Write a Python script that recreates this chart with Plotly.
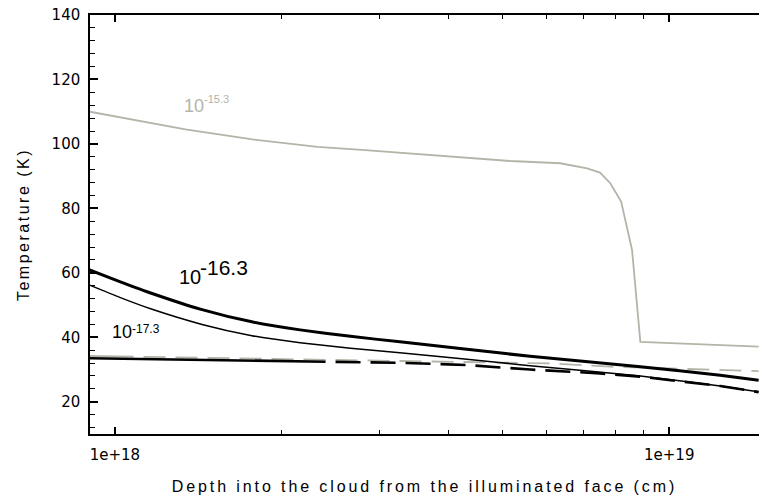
import plotly.graph_objects as go

# Temperature profiles (K) against depth (cm), one per labelled rate
depth_153 = [9.0e17, 1.34e18, 1.77e18, 2.32e18, 2.83e18, 4.2e18, 5.17e18, 6.36e18,
             7.11e18, 7.5e18, 7.83e18, 8.19e18, 8.57e18, 8.87e18, 1.105e19, 1.45e19]
temp_153 = [110.0, 104.5, 101.4, 99.1, 98.1, 95.8, 94.7, 94.0,
            92.4, 91.1, 87.8, 82.1, 67.1, 38.6, 37.9, 37.1]

depth_163 = [9.0e17, 1.02e18, 1.167e18, 1.436e18, 1.766e18, 2.158e18, 2.66e18, 3.266e18,
             4.315e18, 5.61e18, 8.87e18, 1.236e19, 1.45e19]
temp_163 = [60.9, 57.3, 53.6, 48.6, 44.8, 42.3, 40.3, 38.6,
            36.3, 34.1, 30.9, 28.2, 26.7]

depth_173 = [9.0e17, 1.02e18, 1.167e18, 1.436e18, 1.766e18, 2.158e18, 2.66e18, 3.266e18,
             4.315e18, 5.61e18, 8.87e18, 1.236e19, 1.45e19]
temp_173 = [56.2, 52.4, 48.7, 44.0, 40.5, 38.3, 36.6, 35.2,
            33.2, 31.2, 28.0, 24.9, 23.1]

depth_dash_black = [9.0e17, 2.158e18, 3.266e18, 4.315e18, 5.61e18, 7.5e18, 8.87e18,
                    1.236e19, 1.45e19]
temp_dash_black = [33.5, 32.6, 32.1, 31.4, 30.0, 28.8, 27.8, 24.9, 23.0]

depth_dash_gray = [9.0e17, 2.158e18, 3.266e18, 5.61e18, 6.10e18, 7.83e18, 9.64e18, 1.45e19]
temp_dash_gray = [34.2, 33.2, 32.8, 32.0, 31.9, 30.9, 30.4, 29.5]

x_major_ticks = [1e18, 1e19]
x_major_text = ["1e+18", "1e+19"]
x_minor_ticks = [2e18, 3e18, 4e18, 5e18, 6e18, 7e18, 8e18, 9e18]
y_ticks = [20, 40, 60, 80, 100, 120, 140]

GRAY = "#b4b4a8"
FONT = "Liberation Sans, Arial, sans-serif"
TICK_FONT = "DejaVu Sans, sans-serif"


def spaced(text, px):
    return f'<span style="letter-spacing:{px}px">{text}</span>'


def dash_after_solid(solid, on, off, repeats=30):
    # an unbroken lead-in stroke, then a regular on/off dash train
    return ",".join([f"{solid}px", f"{off}px"] + [f"{on}px,{off}px"] * repeats)


fig = go.Figure()
fig.add_trace(go.Scatter(x=depth_dash_gray, y=temp_dash_gray, mode="lines",
                         line=dict(color=GRAY, width=1.8, dash=dash_after_solid(44, 22, 10))))
fig.add_trace(go.Scatter(x=depth_dash_black, y=temp_dash_black, mode="lines",
                         line=dict(color="black", width=2.6, dash=dash_after_solid(236, 25, 10))))
fig.add_trace(go.Scatter(x=depth_173, y=temp_173, mode="lines",
                         line=dict(color="black", width=1.5, shape="spline", smoothing=0.5)))
fig.add_trace(go.Scatter(x=depth_163, y=temp_163, mode="lines",
                         line=dict(color="black", width=3, shape="spline", smoothing=0.5)))
fig.add_trace(go.Scatter(x=depth_153, y=temp_153, mode="lines",
                         line=dict(color=GRAY, width=1.8)))

# curve labels: base "10" plus exponent, placed in data coordinates (log10 for x)
labels = [
    (18.121, 111.9, "10", 18, GRAY, 18.157, 113.8, "-15.3", 11),
    (18.112, 58.7, "10", 20, "black", 18.150, 61.6, "-16.3", 21),
    (17.991, 41.5, "10", 18, "black", 18.027, 42.6, "-17.3", 12),
]
for bx, by, btxt, bsz, col, sx, sy, stxt, ssz in labels:
    fig.add_annotation(x=bx, y=by, xref="x", yref="y", text=btxt, showarrow=False,
                       xanchor="left", yanchor="middle",
                       font=dict(family=FONT, size=bsz, color=col))
    fig.add_annotation(x=sx, y=sy, xref="x", yref="y", text=stxt, showarrow=False,
                       xanchor="left", yanchor="middle",
                       font=dict(family=FONT, size=ssz, color=col))

fig.update_layout(
    width=759, height=502,
    margin=dict(l=90, r=0, t=15, b=68, pad=0),
    paper_bgcolor="white", plot_bgcolor="white",
    showlegend=False,
    font=dict(family=FONT, color="black"),
    xaxis=dict(
        type="log", range=[17.955, 19.162],
        showline=True, linecolor="black", linewidth=1.5, mirror="ticks",
        showgrid=False, zeroline=False,
        ticks="inside", ticklen=7, tickwidth=1.5, tickcolor="black",
        tickvals=x_major_ticks, ticktext=x_major_text,
        tickfont=dict(family=TICK_FONT, size=15), ticklabelstandoff=6,
        minor=dict(tickvals=x_minor_ticks, ticks="inside", ticklen=4,
                   tickwidth=1, tickcolor="black", showgrid=False),
        title=dict(text=spaced("Depth into the cloud from the illuminated face (cm)", 2.9),
                   font=dict(size=16), standoff=18),
    ),
    yaxis=dict(
        range=[10, 140],
        showline=True, linecolor="black", linewidth=1.5,
        showgrid=False, zeroline=False,
        ticks="inside", ticklen=8, tickwidth=1.5, tickcolor="black",
        tickvals=y_ticks,
        tickfont=dict(family=TICK_FONT, size=15), ticklabelstandoff=5,
        minor=dict(tick0=0, dtick=4, ticks="inside", ticklen=5,
                   tickwidth=1, tickcolor="black", showgrid=False),
        title=dict(text=spaced("Temperature (K)", 2.5), font=dict(size=16), standoff=18),
    ),
)

fig.write_html("out.html")
